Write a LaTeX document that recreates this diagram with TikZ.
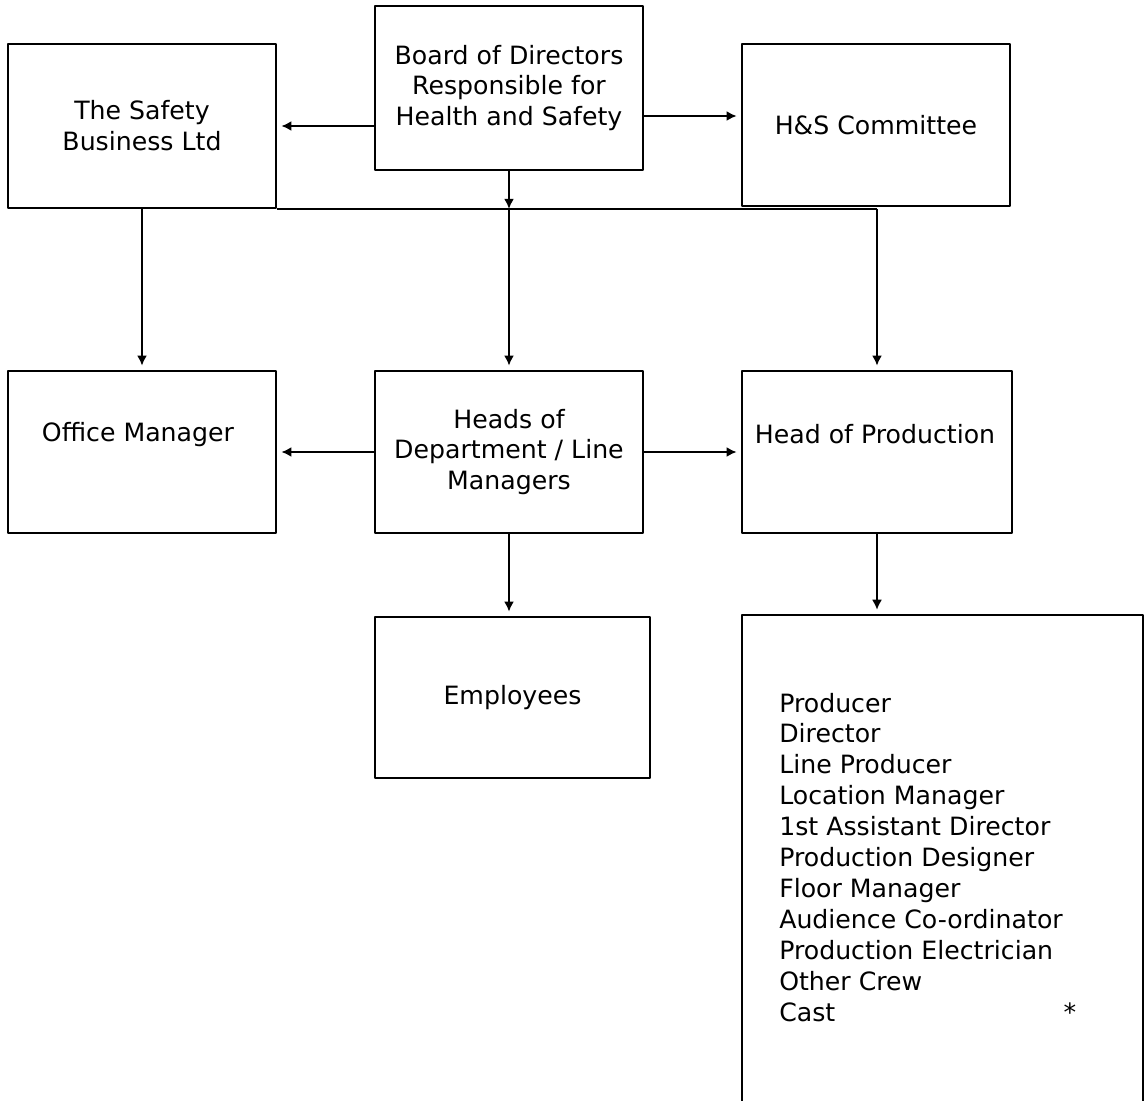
\documentclass[tikz,border=0pt]{standalone}
\usepackage{fontspec}
\setmainfont{DejaVu Sans}
\usetikzlibrary{arrows.meta}
\begin{document}
\begin{tikzpicture}[
	x=0.75pt,
	y=-0.75pt,
	line join=round,
	>={Latex[length=7.5pt,width=7.5pt]},
	every node/.style={font=\fontsize{18.9}{23.2}\selectfont},
	orgbox/.style={draw, line width=1.2pt, inner sep=0pt, align=center,
		minimum width=201pt, minimum height=121.5pt},
	link/.style={line width=1.2pt, ->, shorten >=3.5pt},
	]
\useasboundingbox (0,0) rectangle (1145,1100);
% top row
\node[orgbox, minimum height=123pt] (safety) at (142,126) {The Safety\\Business Ltd};
\node[orgbox, minimum height=123pt] (board) at (509,88) {Board of Directors\\Responsible for\\Health and Safety};
\node[orgbox] (hs) at (876,125) {H\&S Committee};
% middle row
\node[orgbox] (office) at (142,452) {};
\node (officetext) at (138,435) {Office Manager};
\node[orgbox] (heads) at (509,452) {Heads of\\Department / Line\\Managers};
\node[orgbox, minimum width=202.5pt] (hop) at (877,452) {};
\node (hoptext) at (875,434) {Head of Production};
% bottom row
\node[orgbox, minimum width=206pt, minimum height=120.75pt] (emp) at (512.5,697.5) {Employees};
\node[orgbox, minimum width=300.75pt, minimum height=371pt] (crew) at (942.5,862.5) {};
\foreach \role [count=\i from 0] in {Producer, Director, Line Producer, Location Manager,
	1st Assistant Director, Production Designer, Floor Manager, Audience Co-ordinator,
	Production Electrician, Other Crew, Cast}
	\node[anchor=base west, inner sep=0pt] (crew-\i) at (779,712+30.9*\i) {\role};
\node (star) at (1070,1012) {*};
% connectors
\draw[link] (board.west |- safety.east) -- (safety.east);
\draw[link] ([yshift=-21pt]board.east) -- ([yshift=-21pt]board.east -| hs.west);
\draw[line width=1.2pt] (safety.south east) -- (hop.north |- safety.south);
\draw[line width=1.2pt, ->] (board.south) -- (board.south |- safety.south);
\draw[link] (board.south |- safety.south) -- (heads.north);
\draw[link] (safety.south) -- (office.north);
\draw[link] (hop.north |- safety.south) -- (hop.north);
\draw[link] (heads.west) -- (office.east);
\draw[link] (heads.east) -- (hop.west);
\draw[link] (heads.south) -- (heads.south |- emp.north);
\draw[link] (hop.south) -- (hop.south |- crew.north);
\end{tikzpicture}
\end{document}
